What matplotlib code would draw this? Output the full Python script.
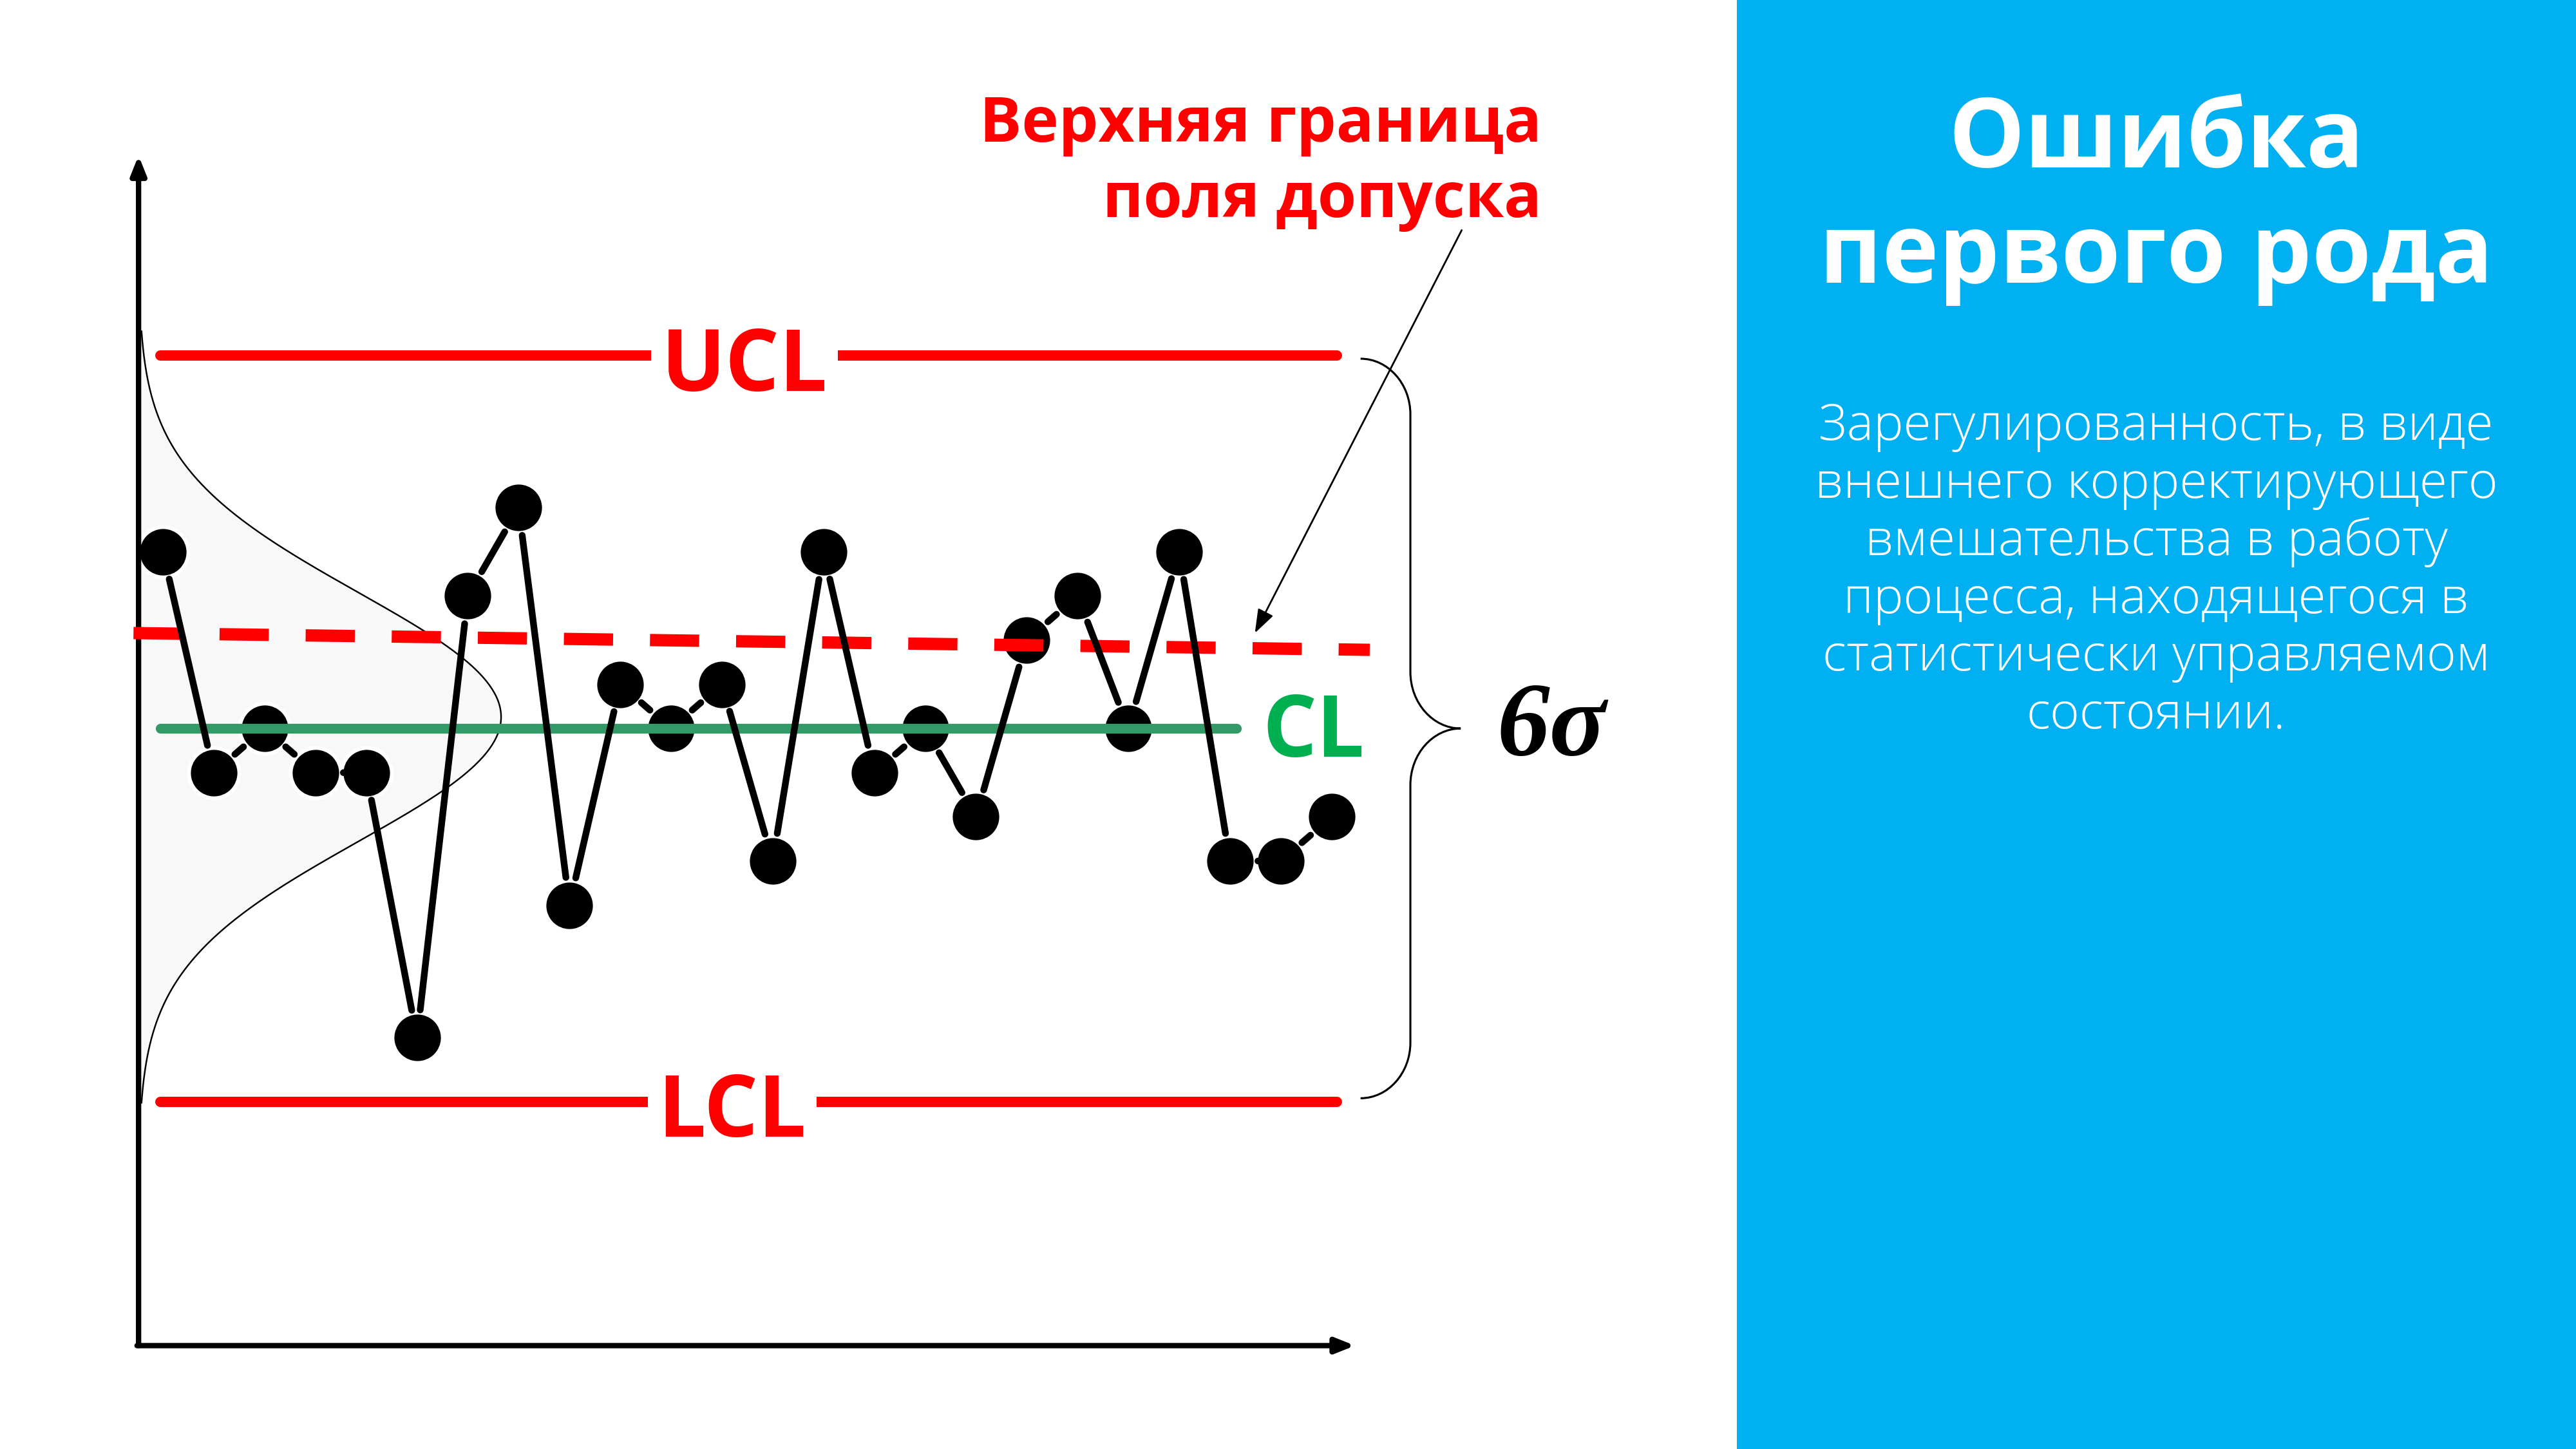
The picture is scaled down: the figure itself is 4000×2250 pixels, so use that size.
import numpy as np
import matplotlib.pyplot as plt
from matplotlib.path import Path
from matplotlib.patches import PathPatch, Rectangle

# process measurements (in sigma-grid units, CL = 0)
values = [4, -1, 0, -1, -1, -7, 3, 5, -4, 1, 0, 1, -3, 4, -1, 0, -2, 2, 3, 0, 4, -3, -3, -2]
CL = 0.0
UCL = 8.45
LCL = -8.45
tol_upper = [2.16, 1.78]      # upper tolerance limit (dashed), left / right end
sigma = (UCL - CL) / 3
mu_curve = 0.26

note_lines = ['Верхняя граница', 'поля допуска']
title_lines = ['Ошибка', 'первого рода']
body_lines = ['Зарегулированность, в виде',
              'внешнего корректирующего',
              'вмешательства в работу',
              'процесса, находящегося в',
              'статистически управляемом',
              'состоянии.']

RED = '#FF0000'
GREEN_LINE = '#339966'
GREEN_TXT = '#00B050'
BLUE = '#00B0F0'
sans = ['Open Sans', 'DejaVu Sans']

fig = plt.figure(figsize=(16, 9), dpi=250)
ax = fig.add_axes([0, 0, 1, 1])
ax.set_xlim(-3.207, 47.49)
ax.set_ylim(-16.31, 16.49)
ax.set_facecolor('none')
ax.axis('off')

# right blue panel
ax.add_patch(Rectangle((0.67425, 0), 0.33, 1, transform=ax.transAxes,
                       facecolor=BLUE, edgecolor='none', zorder=0))

x = np.arange(len(values))

# axes with arrows
x_ax, y_ax = -0.48, -13.97
ax.annotate('', xy=(x_ax, 12.97), xytext=(x_ax, y_ax),
            arrowprops=dict(arrowstyle='-|>,head_length=0.5,head_width=0.2', lw=2.4,
                            color='k', mutation_scale=14, shrinkA=0, shrinkB=0), zorder=3)
ax.annotate('', xy=(23.46, y_ax), xytext=(x_ax - 0.03, y_ax),
            arrowprops=dict(arrowstyle='-|>,head_length=0.5,head_width=0.2', lw=2.4,
                            color='k', mutation_scale=14, shrinkA=0, shrinkB=0), zorder=3)

# normal distribution curve lying on the y axis
amp = 7.135
vv = np.linspace(mu_curve - 3.1 * sigma, mu_curve + 3.1 * sigma, 400)
xx = x_ax + amp * np.exp(-(vv - mu_curve) ** 2 / (2 * sigma ** 2))
ax.fill_betweenx(vv, x_ax, xx, color='#F8F8F8', lw=0, zorder=1)
ax.plot(xx, vv, color='k', lw=0.7, zorder=1.5)

# control limits
ax.plot([-0.05, 23.1], [UCL, UCL], color=RED, lw=4.6, solid_capstyle='round', zorder=3)
ax.plot([-0.05, 23.1], [LCL, LCL], color=RED, lw=4.6, solid_capstyle='round', zorder=3)
ax.text(11.44, UCL - 0.81, 'UCL', color=RED, fontsize=38, fontweight='bold', family=sans,
        ha='center', va='baseline', zorder=4,
        bbox=dict(boxstyle='square,pad=0.12', facecolor='white', edgecolor='none'))
ax.text(11.2, LCL - 0.79, 'LCL', color=RED, fontsize=38, fontweight='bold', family=sans,
        ha='center', va='baseline', zorder=4,
        bbox=dict(boxstyle='square,pad=0.12', facecolor='white', edgecolor='none'))

# tolerance limit
ax.plot([-0.58, 23.75], tol_upper, color=RED, lw=5.5, dashes=(4, 3), zorder=3)

# centre line
ax.plot([-0.05, 21.13], [CL, CL], color=GREEN_LINE, lw=4.4, solid_capstyle='round', zorder=3)
ax.text(21.64, CL - 0.64, 'CL', color=GREEN_TXT, fontsize=38, fontweight='bold', family=sans,
        ha='left', va='baseline', zorder=4)

# points and connectors
ax.plot(x, values, 'o', ms=22.5, mfc='k', mec='white', mew=1.7, zorder=2)
for k in range(len(values) - 1):
    ax.annotate('', xy=(x[k + 1], values[k + 1]), xytext=(x[k], values[k]),
                arrowprops=dict(arrowstyle='-', color='k', lw=3.0,
                                shrinkA=12.5, shrinkB=12.5), zorder=4)

# brace 6 sigma
bx0, bx1, bx2 = 23.57, 24.55, 25.54
top, bot = UCL - 0.08, LCL + 0.08
r = 1.26
verts = [(bx0, top), (bx0 + 0.55 * (bx1 - bx0), top), (bx1, top - r + 0.55 * r), (bx1, top - r),
         (bx1, CL + 1.28),
         (bx1, CL + 1.28 - 0.55 * 1.28), (bx2 - 0.55 * (bx2 - bx1), CL), (bx2, CL),
         (bx2 - 0.55 * (bx2 - bx1), CL), (bx1, CL - 1.28 + 0.55 * 1.28), (bx1, CL - 1.28),
         (bx1, bot + r),
         (bx1, bot + r - 0.55 * r), (bx0 + 0.55 * (bx1 - bx0), bot), (bx0, bot)]
codes = [Path.MOVETO, Path.CURVE4, Path.CURVE4, Path.CURVE4, Path.LINETO,
         Path.CURVE4, Path.CURVE4, Path.CURVE4, Path.CURVE4, Path.CURVE4, Path.CURVE4,
         Path.LINETO, Path.CURVE4, Path.CURVE4, Path.CURVE4]
ax.add_patch(PathPatch(Path(verts, codes), facecolor='none', edgecolor='k', lw=0.9, zorder=3))
ax.text(26.25, CL - 0.03, '6σ', fontsize=47, fontweight='bold', style='italic',
        family=['Liberation Serif', 'DejaVu Serif'], ha='left', va='center', zorder=4)

# note about tolerance limit
ax.text(27.14, 13.29, note_lines[0], color=RED, fontsize=28, fontweight='bold', family=sans,
        ha='right', va='baseline')
ax.text(27.14, 11.57, note_lines[1], color=RED, fontsize=28, fontweight='bold', family=sans,
        ha='right', va='baseline')
ax.annotate('', xy=(21.49, 2.16), xytext=(25.56, 11.28),
            arrowprops=dict(arrowstyle='-|>,head_length=0.45,head_width=0.16', color='k',
                            lw=0.8, mutation_scale=20, shrinkA=0, shrinkB=0), zorder=4)

# right panel text
cx = 0.837
ax.text(cx, 1 - 260 / 2250, title_lines[0], transform=ax.transAxes, color='white',
        fontsize=43, fontweight='bold', family=sans, ha='center', va='baseline')
ax.text(cx, 1 - 439 / 2250, title_lines[1], transform=ax.transAxes, color='white',
        fontsize=43, fontweight='bold', family=sans, ha='center', va='baseline')
for k, line in enumerate(body_lines):
    ax.text(cx, 1 - (683 + 89.6 * k) / 2250, line, transform=ax.transAxes, color='white',
            fontsize=22.5, fontweight='light', family=sans, ha='center', va='baseline')

plt.savefig('out.png', dpi=250)
